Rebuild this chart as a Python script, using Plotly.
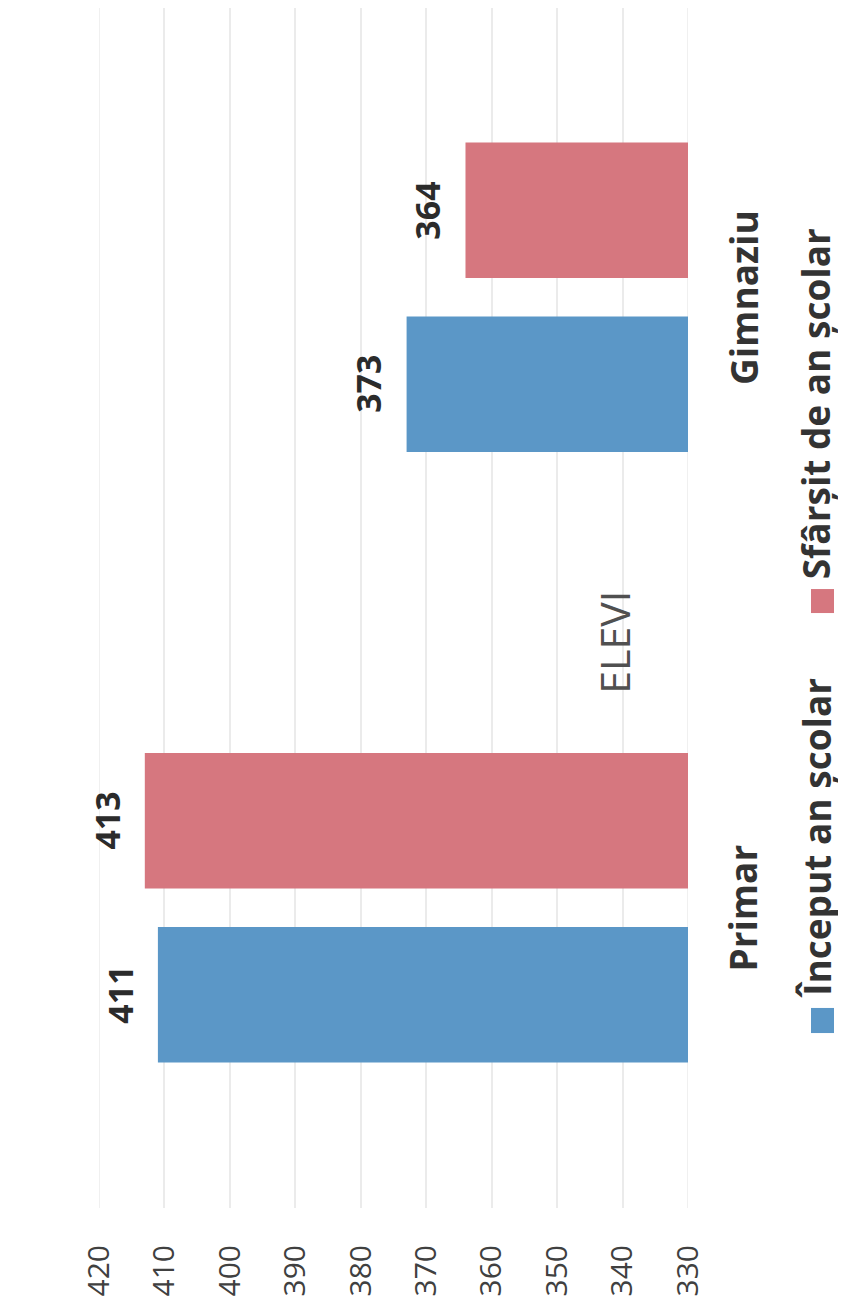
import plotly.graph_objects as go

categories = ["Primar", "Gimnaziu"]
series_names = ["Început an școlar", "Sfârșit de an școlar"]
inceput = [411, 373]
sfarsit = [413, 364]
tick_vals = [330, 340, 350, 360, 370, 380, 390, 400, 410, 420]
axis_min, axis_max = 330, 420
title_text = "ELEVI"

colors = ["#5b97c7", "#d6777f"]
FONT = "Open Sans"
BARGAP = 0.43
BARGROUPGAP = 0.22
GRID = "#ebebeb"

fig = go.Figure()
for name, vals, col in zip(series_names, [inceput, sfarsit], colors):
    fig.add_trace(go.Bar(
        y=categories, x=vals, name=name, orientation="h",
        marker=dict(color=col, line=dict(width=0)),
        showlegend=False,
    ))

# value labels outside bar ends
slot = (1 - BARGAP) / 2
for i, vals in enumerate([inceput, sfarsit]):
    for j, v in enumerate(vals):
        fig.add_annotation(
            x=v, y=j + (i - 0.5) * slot, xref="x", yref="y",
            text=str(v), textangle=-90, showarrow=False,
            xanchor="right", yanchor="middle", xshift=-13,
            font=dict(family=FONT, size=34, color="#2b2b2b", weight="bold"),
        )

# category labels
for j, c in enumerate(categories):
    fig.add_annotation(
        x=1.093, y=j, xref="paper", yref="y", text=c, textangle=-90,
        showarrow=False, xanchor="center", yanchor="middle",
        font=dict(family=FONT, size=37, color="#333333", weight="bold"),
    )

# title
fig.add_annotation(
    x=0.874, y=0.4717, xref="paper", yref="paper", text=title_text,
    textangle=-90, showarrow=False, xanchor="center", yanchor="middle",
    font=dict(family=FONT, size=41, color="#505050"),
)

# legend (rotated)
leg_y = [0.3083, 0.6704]
sq_y = [(0.1458, 0.1667), (0.4958, 0.5158)]
for name, col, ly, (y0, y1) in zip(series_names, colors, leg_y, sq_y):
    fig.add_annotation(
        x=1.217, y=ly, xref="paper", yref="paper", text=name, textangle=-90,
        showarrow=False, xanchor="center", yanchor="middle",
        font=dict(family=FONT, size=37, color="#333333", weight="bold"),
    )
    fig.add_shape(type="rect", xref="paper", yref="paper",
                  x0=1.2088, x1=1.2479, y0=y0, y1=y1,
                  fillcolor=col, line=dict(width=0))

# edge gridlines (plotly omits grid at range ends)
for v in (axis_min, axis_max):
    fig.add_shape(type="line", xref="x", yref="paper", x0=v, x1=v, y0=0, y1=1,
                  line=dict(color=GRID, width=1.5), layer="below")

fig.update_layout(
    width=838, height=1304,
    margin=dict(l=91, r=158, t=0, b=104),
    paper_bgcolor="white", plot_bgcolor="white",
    barmode="group", bargap=BARGAP, bargroupgap=BARGROUPGAP,
    xaxis=dict(
        range=[axis_max, axis_min], tickvals=tick_vals, tickangle=-90,
        showgrid=True, gridcolor=GRID, gridwidth=1.5,
        zeroline=False, showline=False, ticks="",
        ticklabelstandoff=30,
        tickfont=dict(family=FONT, size=30, color="#404040"),
    ),
    yaxis=dict(
        range=[-0.4918, 1.4738], showticklabels=False, showgrid=False,
        zeroline=False, showline=False, ticks="",
    ),
    showlegend=False,
)

fig.write_html("out.html")
